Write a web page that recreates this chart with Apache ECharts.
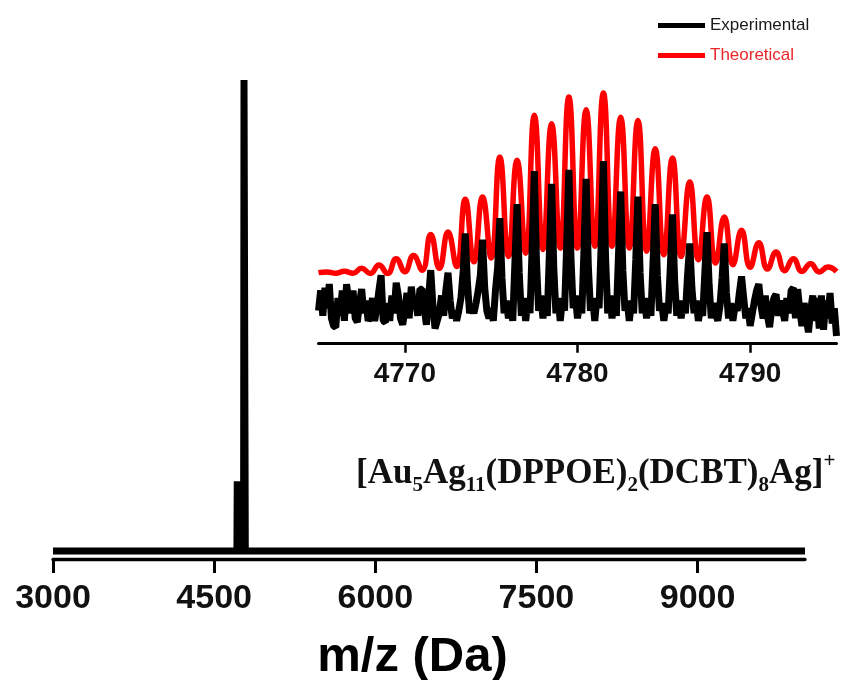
<!DOCTYPE html>
<html>
<head>
<meta charset="utf-8">
<script src="https://cdn.jsdelivr.net/npm/echarts@6/dist/echarts.min.js"></script>
<style>
html,body{margin:0;padding:0;background:#fff;}
#c{width:846px;height:680px;}
</style>
</head>
<body>
<div id="c"></div>
<script>
// ---- main spectrum ----
const xTicks = [3000, 4500, 6000, 7500, 9000];
const mainMz  = [3000, 4712, 4715, 4722, 4726, 4774, 4778, 4786, 4790, 10000];
const mainInt = [0,    0,    14.8, 14.8, 0,    0,    100,  100,  0,    0];

// ---- inset ----
const insetTicks = [4770, 4780, 4790];
const redMz = [4765,4765.5,4766,4766.5,4767,4767.5,4768,4768.5,4769,4769.5,4770,4770.5,
  4771,4771.5,4772,4772.5,4773,4773.5,4774,4774.5,4775,4775.5,4776,4776.5,4777,4777.5,
  4778,4778.5,4779,4779.5,4780,4780.5,4781,4781.5,4782,4782.5,4783,4783.5,4784,4784.5,
  4785,4785.5,4786,4786.5,4787,4787.5,4788,4788.5,4789,4789.5,4790,4790.5,4791,4791.5,
  4792,4792.5,4793,4793.5,4794,4794.5,4795];
const redInt = [28.0,28.3,27.8,28.6,27.8,29.7,27.7,31.0,27.7,33.5,28.4,34.8,
  29.0,43.0,29.7,44.0,30.4,56.9,32.3,57.8,33.8,73.6,34.4,72.3,35.7,90.0,
  37.1,86.7,37.7,97.2,37.7,92.2,38.4,98.8,38.4,89.3,37.7,88.0,36.4,76.8,
  35.1,73.2,34.4,63.7,33.1,57.8,31.8,49.9,31.1,44.7,30.1,39.8,29.4,36.1,
  28.8,33.5,28.5,31.5,28.3,30.2,28.4];

const blackStart = 4765, blackStep = 0.125;
const blackInt = [
  13,21,11,22,14,23.5,10,7,
  6.5,18,11,21,9,23.5,17,12,
  21,10,8.5,16,21.5,12,17,9,
  11,18,9,14,21,27,9,8.5,
  16,9,19,12,24,19,10,7.5,
  13,20,10,22.5,15,17,11,21.5,
  21.5,14,7.5,18,29,15,6,9,
  12,19,11,21,28,17,10,13,
  9,13,18,28,43.5,24,12,15,
  12,16,21,27,41,22,13,10,
  14,9,21,30,49.5,26,12,17,
  10,15,9,32,55,28,11,18,
  9,17,12,38,68,32,13,19,
  10,16,11,36,63,30,12,18,
  9,17,13,39,68.5,33,14,19,
  10,16,12,37,65,31,13,18,
  9,18,14,40,72,34,12,19,
  10,17,11,35,60,29,13,17,
  9,16,12,33,58,28,12,18,
  10,17,11,32,55,27,13,16,
  9,15,12,30,51,25,11,17,
  10,16,12,27,39.5,22,12,17,
  9,14,11,28,44,23,10,16,
  12,9,15,26,39.5,20,10,16,
  9,15,13,20,26.5,18,10,14,
  7,12,17,21,23.5,15,10,19,
  11,6.5,14,18,19.5,11,17,13,
  9,18,12,21,22,10,21.5,13,
  7,16,10,4.5,13,19,9,18,
  6,19,5.5,17,10,20,8,14,
  3];

const mainData = mainMz.map((m, i) => [m, mainInt[i]]);
const redData = redMz.map((m, i) => [m, redInt[i]]);
const blackData = blackInt.map((v, i) => [blackStart + i * blackStep, v]);

const SANS = "'Liberation Sans', Arial, sans-serif";
const SERIF = "'Liberation Serif', 'Times New Roman', serif";
const plain = v => String(v);
const chart = echarts.init(document.getElementById('c'), null, {renderer: 'canvas'});
chart.setOption({
  animation: false,
  backgroundColor: '#fff',
  textStyle: {fontFamily: SANS},
  legend: {
    orient: 'vertical', left: 653, top: 12,
    itemWidth: 47, itemHeight: 5, itemGap: 13, icon: 'rect',
    textStyle: {fontSize: 17, fontFamily: SANS},
    data: [
      {name: 'Experimental', textStyle: {color: '#1a1a1a'}},
      {name: 'Theoretical', textStyle: {color: '#e8262a'}}
    ]
  },
  grid: [
    {left: 53, right: 41, top: 80, bottom: 129, outerBoundsMode: 'none', containLabel: false},
    {left: 318.5, right: 9.5, top: 90, bottom: 336.3, outerBoundsMode: 'none', containLabel: false}
  ],
  xAxis: [
    {
      gridIndex: 0, type: 'value', min: 3000, max: 10000, offset: 8,
      splitLine: {show: false},
      axisLine: {onZero: false, lineStyle: {color: '#000', width: 3.3}},
      axisTick: {length: 14, lineStyle: {color: '#000', width: 3}, customValues: xTicks},
      axisLabel: {customValues: xTicks, formatter: plain, margin: 23, fontSize: 34, fontWeight: 'bold', color: '#111', fontFamily: SANS},
      name: 'm/z (Da)', nameLocation: 'middle', nameGap: 74,
      nameTextStyle: {fontSize: 49, fontWeight: 'bold', color: '#000', fontFamily: SANS, padding: [0, 33, 0, 0]}
    },
    {
      gridIndex: 1, type: 'value', min: 4765, max: 4795,
      splitLine: {show: false},
      axisLine: {onZero: false, lineStyle: {color: '#000', width: 3}},
      axisTick: {length: 9, lineStyle: {color: '#000', width: 2.5}, customValues: insetTicks},
      axisLabel: {customValues: insetTicks, formatter: plain, margin: 17, fontSize: 28, fontWeight: 'bold', color: '#111', fontFamily: SANS}
    }
  ],
  yAxis: [
    {gridIndex: 0, type: 'value', min: 0, max: 100, show: false},
    {gridIndex: 1, type: 'value', min: 0, max: 100, show: false}
  ],
  graphic: [{
    type: 'text', x: 356, y: 474,
    style: {
      text: '{b|[Au}{s|5}{b|Ag}{s|11}{b|(DPPOE)}{s|2}{b|(DCBT)}{s|8}{b|Ag]}{p|+}',
      verticalAlign: 'middle', align: 'left',
      rich: {
        b: {fontSize: 35, lineHeight: 35, fontWeight: 'bold', fontFamily: SERIF, fill: '#111', verticalAlign: 'middle'},
        s: {fontSize: 21, lineHeight: 45, fontWeight: 'bold', fontFamily: SERIF, fill: '#111', verticalAlign: 'bottom'},
        p: {fontSize: 21, lineHeight: 21, fontWeight: 'bold', fontFamily: SERIF, fill: '#111', verticalAlign: 'top'}
      }
    }
  }],
  series: [
    {
      name: 'Spectrum', type: 'line', xAxisIndex: 0, yAxisIndex: 0,
      data: mainData, showSymbol: false, clip: false, silent: true,
      lineStyle: {color: '#000', width: 7, cap: 'butt', join: 'miter'},
      itemStyle: {color: '#000'}
    },
    {
      name: 'Theoretical', type: 'line', xAxisIndex: 1, yAxisIndex: 1,
      data: redData, showSymbol: false, clip: false, silent: true, smooth: 0.5,
      lineStyle: {color: '#ff0000', width: 5.5, join: 'round'},
      itemStyle: {color: '#ff0000'}
    },
    {
      name: 'Experimental', type: 'line', xAxisIndex: 1, yAxisIndex: 1,
      data: blackData, showSymbol: false, clip: false, silent: true,
      lineStyle: {color: '#000', width: 7, join: 'bevel'},
      itemStyle: {color: '#000'}
    }
  ]
});
</script>
</body>
</html>
